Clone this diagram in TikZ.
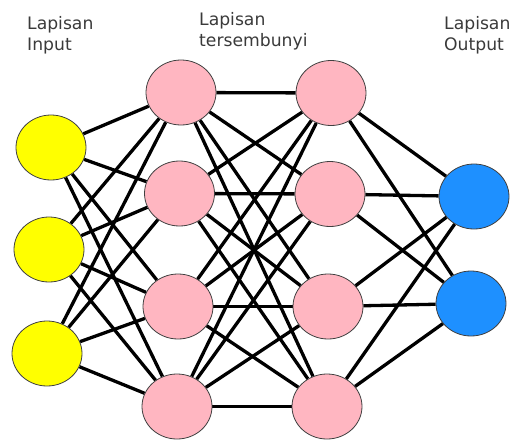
\documentclass[tikz,border=0pt]{standalone}
\usepackage{fontspec}
\setmainfont{DejaVu Sans}
\usetikzlibrary{shapes.geometric,backgrounds}
\definecolor{inyellow}{HTML}{FFFF00}
\definecolor{hidpink}{HTML}{FFB6C1}
\definecolor{outblue}{HTML}{1E90FF}
\definecolor{labelgray}{HTML}{3A3A3A}
\tikzset{
  neuron/.style={ellipse,draw=black!75,line width=0.8pt,minimum width=70pt,minimum height=65pt,inner sep=0pt},
  inneuron/.style={neuron,fill=inyellow},
  hidneuron/.style={neuron,fill=hidpink},
  outneuron/.style={neuron,fill=outblue},
  conn/.style={line width=3.3pt,black},
  lbl/.style={align=left,anchor=north west,inner sep=0pt,text=labelgray,font=\fontsize{17.2}{21.5}\selectfont}
}
\begin{document}
\begin{tikzpicture}[x=1pt,y=-1pt]
\useasboundingbox (0,0) rectangle (511,439);
\node[inneuron] (i1) at (51,147.5) {};
\node[inneuron] (i2) at (49,249.5) {};
\node[inneuron] (i3) at (47,353.5) {};
\node[hidneuron] (a1) at (181,92.5) {};
\node[hidneuron] (a2) at (179.5,193.5) {};
\node[hidneuron] (a3) at (178,306.5) {};
\node[hidneuron] (a4) at (177,406.5) {};
\node[hidneuron] (b1) at (331,93) {};
\node[hidneuron] (b2) at (330,194) {};
\node[hidneuron] (b3) at (328,306.5) {};
\node[hidneuron] (b4) at (327,406.5) {};
\node[outneuron] (o1) at (474,196.5) {};
\node[outneuron] (o2) at (471,303.5) {};
\begin{scope}[on background layer]
\foreach \s in {i1,i2,i3}
  \foreach \t in {a1,a2,a3,a4}
    \draw[conn] (\s) -- (\t);
\foreach \s in {a1,a2,a3,a4}
  \foreach \t in {b1,b2,b3,b4}
    \draw[conn] (\s) -- (\t);
\foreach \s in {b1,b2,b3,b4}
  \foreach \t in {o1,o2}
    \draw[conn] (\s) -- (\t);
\end{scope}
\node[lbl] (tin) at (27,16) {Lapisan\\Input};
\node[lbl] (thid) at (199,12) {Lapisan\\tersembunyi};
\node[lbl] (tout) at (444,16) {Lapisan\\Output};
\end{tikzpicture}
\end{document}
